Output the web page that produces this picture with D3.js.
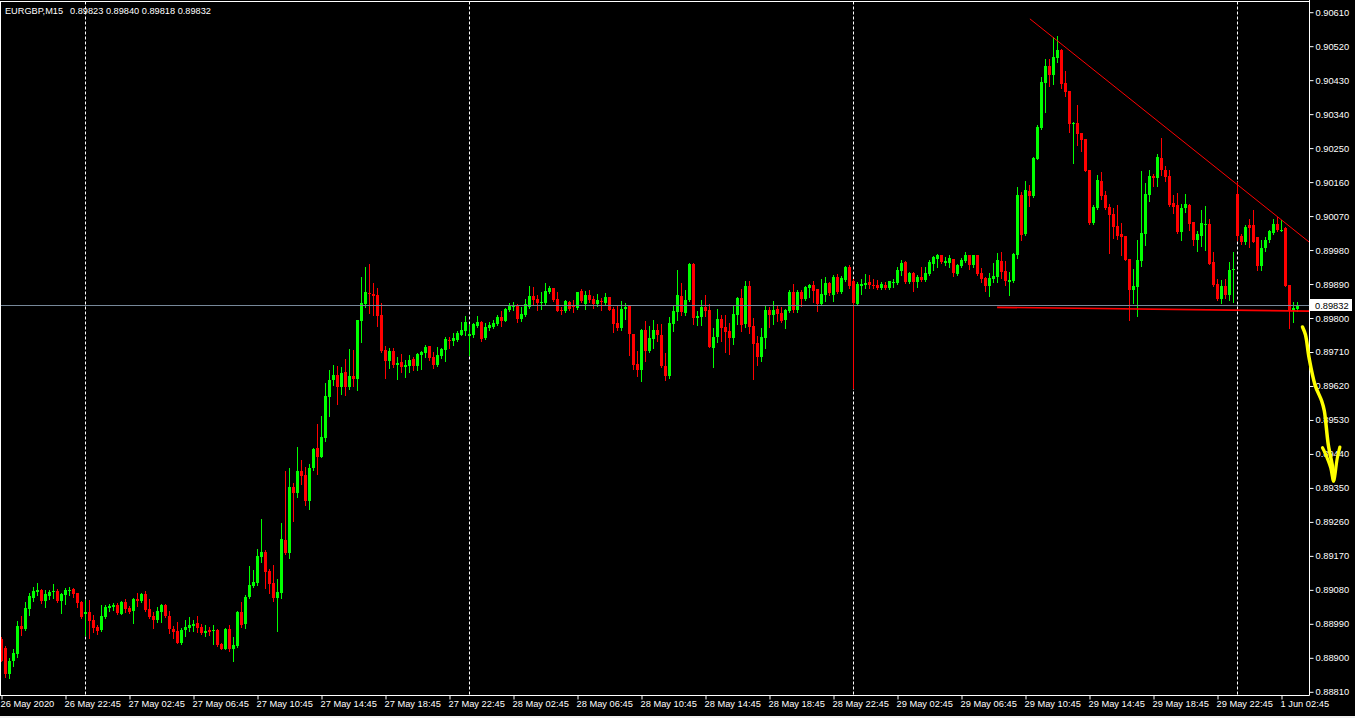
<!DOCTYPE html>
<html><head><meta charset="utf-8">
<script src="https://cdn.jsdelivr.net/npm/d3@7"></script>
<style>
html,body{margin:0;padding:0;background:#000;overflow:hidden;}
svg{display:block;}
text{font-family:"Liberation Sans",Arial,sans-serif;}
</style></head><body>
<svg id="chart" width="1355" height="718"></svg>
<script>
// ---------------- DATA ----------------
const symbolTitle = "EURGBP,M15";
const lastQuote = ["0.89823", "0.89840", "0.89818", "0.89832"];
const bidPrice = 0.89832;

const opens = [
.88949,.88926,.88856,.88889,.88909,.88983,.88974,.89028,.89058,.89074,
.89078,.89049,.89063,.89073,.89076,.89049,.89065,.89075,.89081,.89070,
.89047,.89016,.89020,.88999,.88980,.88972,.89007,.89031,.89033,.89039,
.89015,.89047,.89031,.89023,.89055,.89049,.89068,.89028,.89010,.88999,
.89020,.89039,.89010,.88975,.88970,.88938,.88972,.88978,.88983,.88991,
.88980,.88965,.88972,.88971,.88972,.88935,.88922,.88975,.88922,.88930,
.89021,.88989,.89060,.89089,.89097,.89166,.89178,.89128,.89097,.89057,
.89071,.89210,.89177,.89351,.89336,.89393,.89382,.89314,.89401,.89454,
.89431,.89481,.89590,.89634,.89647,.89616,.89655,.89616,.89645,.89637,
.89791,.89835,.89864,.89862,.89859,.89806,.89713,.89685,.89711,.89675,
.89682,.89669,.89672,.89690,.89672,.89701,.89705,.89724,.89695,.89674,
.89697,.89713,.89740,.89737,.89740,.89755,.89764,.89751,.89753,.89777,
.89788,.89745,.89772,.89775,.89782,.89802,.89791,.89819,.89829,.89833,
.89795,.89807,.89827,.89856,.89848,.89839,.89838,.89867,.89878,.89849,
.89819,.89817,.89841,.89830,.89825,.89870,.89835,.89859,.89848,.89835,
.89843,.89838,.89854,.89822,.89785,.89772,.89822,.89830,.89756,.89676,
.89660,.89766,.89711,.89743,.89766,.89753,.89671,.89645,.89783,.89814,
.89856,.89811,.89846,.89941,.89799,.89802,.89827,.89819,.89720,.89748,
.89795,.89774,.89764,.89745,.89806,.89851,.89782,.89883,.89777,.89732,
.89695,.89745,.89819,.89806,.89822,.89811,.89793,.89817,.89867,.89819,
.89867,.89848,.89878,.89885,.89875,.89835,.89860,.89891,.89859,.89907,
.89867,.89900,.89933,.89896,.89835,.89884,.89885,.89893,.89885,.89885,
.89878,.89885,.89878,.89892,.89892,.89923,.89946,.89893,.89917,.89893,
.89907,.89899,.89915,.89941,.89956,.89965,.89945,.89944,.89954,.89915,
.89936,.89949,.89965,.89939,.89965,.89917,.89904,.89883,.89901,.89907,
.89949,.89923,.89894,.89897,.89966,.90124,.90022,.90135,.90121,.90220,
.90301,.90422,.90466,.90442,.90487,.90508,.90421,.90399,.90312,.90315,
.90288,.90272,.90190,.90051,.90089,.90161,.90124,.90092,.90074,.90042,
.90021,.90015,.89956,.89872,.89881,.89950,.90021,.90124,.90174,.90169,
.90222,.90190,.90174,.90103,.90097,.90026,.90089,.90097,.90052,.90005,
.90015,.90045,.90047,.89947,.89888,.89848,.89883,.89859,.89925,.90127,
.90017,.90001,.90044,.90044,.90012,.89936,.89983,.90005,.90025,.90049,
.90030,.90036,.89886,.89818,.89823
];
const highs = [
.88955,.88930,.88898,.88921,.88996,.89010,.89047,.89071,.89085,.89096,
.89081,.89077,.89078,.89094,.89080,.89071,.89083,.89085,.89083,.89070,
.89049,.89052,.89052,.89012,.88986,.89039,.89039,.89041,.89043,.89043,
.89048,.89054,.89036,.89057,.89071,.89071,.89076,.89055,.89020,.89034,
.89041,.89041,.89023,.88983,.88994,.88978,.88999,.89007,.88999,.89010,
.88988,.88986,.88980,.88986,.88974,.88937,.88978,.88986,.88954,.89023,
.89047,.89064,.89141,.89131,.89188,.89266,.89184,.89135,.89144,.89107,
.89257,.89393,.89401,.89361,.89457,.89423,.89404,.89411,.89454,.89518,
.89539,.89626,.89660,.89674,.89671,.89668,.89690,.89716,.89713,.89793,
.89907,.89933,.89941,.89891,.89878,.89838,.89724,.89719,.89719,.89695,
.89703,.89687,.89700,.89695,.89705,.89711,.89727,.89724,.89709,.89721,
.89719,.89748,.89749,.89758,.89763,.89788,.89803,.89780,.89786,.89803,
.89790,.89785,.89788,.89793,.89806,.89817,.89825,.89838,.89840,.89836,
.89827,.89848,.89883,.89880,.89860,.89867,.89891,.89883,.89878,.89867,
.89828,.89846,.89843,.89846,.89867,.89875,.89870,.89872,.89856,.89863,
.89851,.89864,.89855,.89827,.89833,.89843,.89838,.89833,.89756,.89711,
.89769,.89791,.89777,.89793,.89782,.89782,.89706,.89801,.89830,.89925,
.89892,.89872,.89944,.89944,.89818,.89846,.89859,.89835,.89772,.89822,
.89806,.89806,.89785,.89830,.89855,.89875,.89896,.89896,.89798,.89750,
.89772,.89830,.89827,.89843,.89830,.89827,.89822,.89872,.89888,.89872,
.89872,.89883,.89888,.89896,.89875,.89901,.89907,.89894,.89912,.89915,
.89909,.89936,.89939,.89901,.89894,.89901,.89915,.89912,.89901,.89899,
.89894,.89894,.89896,.89902,.89933,.89952,.89949,.89920,.89920,.89912,
.89933,.89933,.89952,.89962,.89968,.89965,.89960,.89965,.89954,.89941,
.89957,.89973,.89965,.89965,.89965,.89931,.89907,.89917,.89944,.89970,
.89973,.89949,.89921,.89971,.90145,.90133,.90161,.90150,.90225,.90309,
.90437,.90484,.90484,.90542,.90545,.90511,.90452,.90399,.90317,.90362,
.90288,.90272,.90190,.90097,.90177,.90185,.90135,.90100,.90090,.90097,
.90050,.90015,.89956,.89928,.90005,.90187,.90155,.90190,.90180,.90232,
.90275,.90201,.90190,.90124,.90129,.90100,.90127,.90100,.90052,.90029,
.90084,.90095,.90060,.89973,.89901,.89899,.89901,.89947,.89974,.90159,
.90022,.90044,.90060,.90086,.90013,.90006,.90012,.90033,.90060,.90066,
.90058,.90040,.89886,.89841,.89840
];
const lows = [
.88889,.88849,.88846,.88878,.88902,.88959,.88972,.89012,.89048,.89065,
.89045,.89032,.89055,.89056,.89046,.89018,.89041,.89066,.89061,.89034,
.89003,.88959,.88951,.88967,.88962,.88970,.89003,.89024,.89025,.89016,
.89014,.89020,.89017,.88991,.89036,.89047,.89024,.89003,.88978,.88994,
.88994,.89007,.88965,.88951,.88937,.88935,.88957,.88970,.88970,.88967,
.88962,.88957,.88959,.88935,.88930,.88921,.88921,.88917,.88891,.88927,
.88981,.88978,.89057,.89085,.89091,.89153,.89084,.89071,.89049,.88970,
.89057,.89173,.89163,.89261,.89325,.89358,.89304,.89293,.89396,.89386,
.89430,.89473,.89540,.89621,.89571,.89598,.89595,.89611,.89619,.89608,
.89736,.89828,.89812,.89806,.89778,.89709,.89640,.89667,.89669,.89638,
.89656,.89643,.89656,.89662,.89660,.89663,.89696,.89688,.89667,.89671,
.89694,.89684,.89719,.89727,.89737,.89753,.89753,.89700,.89748,.89775,
.89737,.89743,.89766,.89771,.89780,.89777,.89790,.89817,.89819,.89788,
.89791,.89804,.89824,.89833,.89819,.89823,.89835,.89864,.89844,.89817,
.89809,.89814,.89819,.89814,.89822,.89841,.89822,.89842,.89825,.89830,
.89819,.89833,.89819,.89762,.89766,.89766,.89797,.89700,.89664,.89645,
.89632,.89684,.89708,.89720,.89737,.89668,.89635,.89640,.89764,.89794,
.89806,.89806,.89844,.89783,.89780,.89780,.89804,.89721,.89668,.89735,
.89737,.89709,.89704,.89731,.89782,.89764,.89774,.89758,.89637,.89674,
.89684,.89719,.89774,.89782,.89790,.89788,.89772,.89814,.89814,.89814,
.89830,.89846,.89854,.89841,.89817,.89833,.89843,.89859,.89843,.89864,
.89864,.89896,.89877,.89613,.89833,.89862,.89878,.89878,.89878,.89875,
.89875,.89875,.89875,.89880,.89888,.89912,.89891,.89891,.89870,.89880,
.89896,.89896,.89912,.89925,.89933,.89944,.89939,.89933,.89909,.89912,
.89933,.89946,.89928,.89933,.89912,.89893,.89870,.89856,.89893,.89893,
.89904,.89885,.89860,.89894,.89958,.90006,.90019,.90096,.90119,.90219,
.90299,.90345,.90413,.90418,.90476,.90407,.90386,.90292,.90210,.90256,
.90241,.90188,.90048,.90048,.90087,.90113,.90087,.89971,.90011,.90008,
.89966,.89953,.89794,.89839,.89804,.89937,.89992,.90109,.90148,.90148,
.90177,.90161,.90096,.90077,.90023,.90006,.90079,.90032,.89991,.89976,
.89989,.89979,.89941,.89883,.89846,.89839,.89853,.89846,.89842,.90005,
.89996,.89996,.89987,.90001,.89927,.89927,.89977,.90001,.90022,.90029,
.90029,.89883,.89773,.89789,.89818
];
const closes = [
.88891,.88856,.88891,.88912,.88983,.88975,.89031,.89063,.89076,.89078,
.89049,.89068,.89073,.89076,.89049,.89068,.89078,.89077,.89068,.89044,
.89007,.89020,.88996,.88978,.88970,.89010,.89033,.89036,.89039,.89017,
.89047,.89028,.89020,.89055,.89049,.89068,.89025,.89007,.88999,.89023,
.89039,.89010,.88975,.88967,.88938,.88972,.88980,.88986,.88988,.88978,
.88965,.88970,.88967,.88973,.88933,.88922,.88975,.88922,.88933,.89020,
.88985,.89060,.89091,.89099,.89168,.89178,.89126,.89095,.89057,.89072,
.89213,.89177,.89351,.89336,.89393,.89381,.89314,.89401,.89451,.89431,
.89483,.89592,.89634,.89647,.89616,.89653,.89616,.89645,.89637,.89793,
.89838,.89867,.89862,.89857,.89804,.89712,.89685,.89711,.89675,.89679,
.89668,.89675,.89687,.89672,.89704,.89708,.89721,.89692,.89674,.89700,
.89716,.89743,.89738,.89745,.89758,.89766,.89788,.89756,.89783,.89788,
.89743,.89774,.89780,.89786,.89801,.89791,.89823,.89830,.89833,.89796,
.89809,.89835,.89856,.89846,.89839,.89841,.89870,.89878,.89846,.89818,
.89818,.89843,.89822,.89827,.89867,.89843,.89860,.89846,.89835,.89846,
.89841,.89854,.89819,.89784,.89772,.89822,.89827,.89756,.89674,.89660,
.89766,.89711,.89745,.89766,.89753,.89671,.89645,.89785,.89817,.89859,
.89814,.89846,.89941,.89799,.89804,.89827,.89818,.89722,.89748,.89795,
.89772,.89761,.89745,.89809,.89851,.89780,.89883,.89774,.89729,.89695,
.89748,.89819,.89806,.89819,.89809,.89790,.89819,.89867,.89819,.89867,
.89848,.89880,.89885,.89870,.89835,.89862,.89891,.89866,.89907,.89867,
.89904,.89933,.89883,.89838,.89888,.89888,.89891,.89885,.89884,.89878,
.89888,.89878,.89896,.89893,.89925,.89944,.89893,.89917,.89893,.89907,
.89899,.89917,.89946,.89960,.89965,.89946,.89949,.89957,.89917,.89939,
.89952,.89965,.89939,.89965,.89915,.89901,.89883,.89904,.89909,.89952,
.89920,.89896,.89899,.89968,.90124,.90019,.90137,.90121,.90222,.90304,
.90423,.90466,.90442,.90490,.90508,.90418,.90397,.90313,.90315,.90286,
.90270,.90188,.90051,.90092,.90164,.90121,.90089,.90071,.90040,.90016,
.90013,.89953,.89872,.89883,.89952,.90023,.90126,.90174,.90169,.90225,
.90190,.90172,.90098,.90092,.90026,.90089,.90100,.90047,.90005,.90021,
.90050,.90047,.89943,.89886,.89848,.89884,.89859,.89927,.89929,.90017,
.90001,.90040,.90038,.90001,.89936,.89983,.90006,.90028,.90049,.90031,
.90033,.89884,.89816,.89824,.89832
];

const priceTicks = [0.90610,0.90520,0.90430,0.90340,0.90250,0.90160,0.90070,0.89980,0.89890,0.89800,
  0.89710,0.89620,0.89530,0.89440,0.89350,0.89260,0.89170,0.89080,0.88990,0.88900,0.88810];
const timeTickBars = [0,16,32,48,64,80,96,112,128,144,160,176,192,208,224,240,256,272,288,304,320];
const timeTickLabels = ["26 May 2020","26 May 22:45","27 May 02:45","27 May 06:45","27 May 10:45",
  "27 May 14:45","27 May 18:45","27 May 22:45","28 May 02:45","28 May 06:45","28 May 10:45",
  "28 May 14:45","28 May 18:45","28 May 22:45","29 May 02:45","29 May 06:45","29 May 10:45",
  "29 May 14:45","29 May 18:45","29 May 22:45","1 Jun 02:45"];
const daySeparatorBars = [21,117,213,309];

// drawn objects: [bar index, price]
const trendLinePts = [[257.1,0.90591],[326.9,0.90000]];
const supportLinePts = [[248.9,0.89827],[326.9,0.89817]];
const arrowShaftPts = [[325.25,0.89775],[326.0,0.89754],[326.9,0.89693],[328.4,0.89621],[330.05,0.89579],
  [330.7,0.89553],[331.7,0.89463],[332.8,0.89402],[333.0,0.89367]];
const arrowHeadPts = [[330.25,0.89455],[330.9,0.89441],[332.3,0.89402],[333.0,0.89367],[333.95,0.89428],[334.6,0.89457]];

// ---------------- CHART ----------------
const W = 1355, H = 718;
const plotRight = 1309.5, plotBottom = 695.5, plotTop = 1.5;
const svg = d3.select("#chart");
svg.append("rect").attr("x",0).attr("y",0).attr("width",W).attr("height",H).attr("fill","#000");
svg.append("rect").attr("x",0).attr("y",716).attr("width",W).attr("height",2).attr("fill","#f0f0f0");

const x = d3.scaleLinear().domain([0,324]).range([1.5,1297.5]);
const y = d3.scaleLinear().domain([0.88810,0.90610]).range([691.3,11.7]);

svg.append("defs").append("clipPath").attr("id","plotclip")
  .append("rect").attr("x",0).attr("y",plotTop).attr("width",plotRight).attr("height",plotBottom-plotTop);

const plot = svg.append("g").attr("clip-path","url(#plotclip)");

// day separators
plot.selectAll("line.sep").data(daySeparatorBars).join("line")
  .attr("x1",d=>x(d)).attr("x2",d=>x(d)).attr("y1",plotTop).attr("y2",plotBottom)
  .attr("stroke","#ffffff").attr("stroke-width",1).attr("stroke-dasharray","3,2");

// candles
const bars = d3.range(opens.length).map(i=>({i,o:opens[i],h:highs[i],l:lows[i],c:closes[i]}));
const col = d => d.c >= d.o ? "#00ff00" : "#ff0000";
const cg = plot.append("g");
cg.selectAll("line.wick").data(bars).join("line")
  .attr("x1",d=>x(d.i)).attr("x2",d=>x(d.i))
  .attr("y1",d=>Math.round(y(d.h))).attr("y2",d=>Math.round(y(d.l))+1)
  .attr("stroke",col).attr("stroke-width",1);
cg.selectAll("rect.body").data(bars).join("rect")
  .attr("x",d=>x(d.i)-1.5).attr("width",3)
  .attr("y",d=>Math.round(y(Math.max(d.o,d.c))))
  .attr("height",d=>Math.max(1,Math.round(y(Math.min(d.o,d.c)))-Math.round(y(Math.max(d.o,d.c)))))
  .attr("fill",col);

// bid line
const yb = Math.round(y(bidPrice))+0.5;
plot.append("line").attr("x1",0).attr("x2",plotRight).attr("y1",yb).attr("y2",yb)
  .attr("stroke","#778899").attr("stroke-width",1);

// trend & support lines
const ln = d3.line().x(d=>x(d[0])).y(d=>y(d[1]));
plot.append("path").attr("d",ln(trendLinePts)).attr("fill","none").attr("stroke","#ff0000").attr("stroke-width",1);
plot.append("path").attr("d",ln(supportLinePts)).attr("fill","none").attr("stroke","#ff0000").attr("stroke-width",1.6);

// frame
svg.append("line").attr("x1",0).attr("x2",plotRight).attr("y1",plotTop).attr("y2",plotTop).attr("stroke","#fff");
svg.append("line").attr("x1",0.5).attr("x2",0.5).attr("y1",plotTop).attr("y2",plotBottom).attr("stroke","#fff");

// price axis
const yAxis = d3.axisRight(y).tickValues(priceTicks).tickFormat(d3.format(".5f")).tickSize(4).tickPadding(2);
const ya = svg.append("g").attr("transform",`translate(${plotRight},0.5)`).call(yAxis);
ya.select(".domain").remove();
ya.selectAll("line").attr("stroke","#fff");
ya.selectAll("text").attr("fill","#fff").attr("font-size","9.3px").attr("font-family","Liberation Sans, Arial, sans-serif");
svg.append("line").attr("x1",plotRight).attr("x2",plotRight).attr("y1",0).attr("y2",plotBottom).attr("stroke","#fff");

// time axis
const xAxis = d3.axisBottom(x).tickValues(timeTickBars).tickFormat((d,i)=>timeTickLabels[i]).tickSize(4).tickPadding(1);
const xa = svg.append("g").attr("transform",`translate(0,${plotBottom})`).call(xAxis);
xa.select(".domain").remove();
xa.selectAll("line").attr("stroke","#fff");
xa.selectAll("text").attr("fill","#fff").attr("font-size","9.3px").attr("text-anchor","start").attr("x",-1.5)
  .attr("font-family","Liberation Sans, Arial, sans-serif");
svg.append("line").attr("x1",0).attr("x2",plotRight).attr("y1",plotBottom).attr("y2",plotBottom).attr("stroke","#fff");

// current price box
const yc = y(bidPrice);
svg.append("rect").attr("x",1310).attr("y",Math.round(yc)-6).attr("width",42).attr("height",12).attr("fill","#fff");
svg.append("text").attr("x",1315).attr("y",yc).attr("dy","0.34em").attr("fill","#000")
  .attr("font-size","9.3px").text(d3.format(".5f")(bidPrice));

// header
svg.append("text").attr("x",5).attr("y",14).attr("fill","#fff").attr("font-size","9.5px")
  .attr("textLength",58).attr("lengthAdjust","spacingAndGlyphs").text(symbolTitle);
svg.append("text").attr("x",70).attr("y",14).attr("fill","#fff").attr("font-size","9.5px")
  .attr("textLength",141).attr("lengthAdjust","spacingAndGlyphs").text(lastQuote.join(" "));

// hand-drawn yellow arrow
const curve = d3.line().x(d=>x(d[0])).y(d=>y(d[1])).curve(d3.curveCatmullRom);
svg.append("path").attr("d",curve(arrowShaftPts)).attr("fill","none").attr("stroke","#ffff00")
  .attr("stroke-width",3.5).attr("stroke-linecap","round").attr("stroke-linejoin","round");
svg.append("path").attr("d",curve(arrowHeadPts)).attr("fill","none").attr("stroke","#ffff00")
  .attr("stroke-width",3.2).attr("stroke-linecap","round").attr("stroke-linejoin","round");
</script>
</body></html>
